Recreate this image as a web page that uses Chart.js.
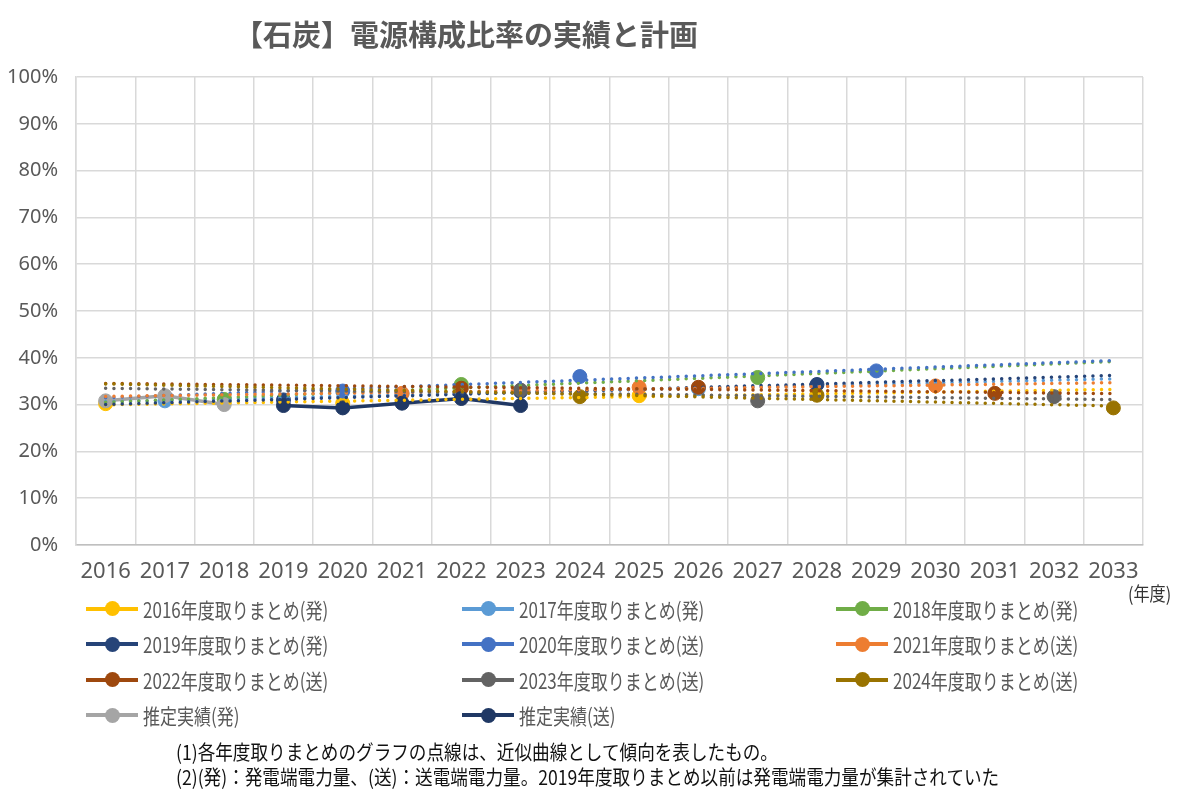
<!DOCTYPE html>
<html lang="ja">
<head>
<meta charset="utf-8">
<title>【石炭】電源構成比率の実績と計画</title>
<script src="https://cdn.jsdelivr.net/npm/chart.js@4.4.1/dist/chart.umd.min.js"></script>
<style>
  html, body { margin: 0; padding: 0; background: #fff; }
  #wrap { position: relative; width: 1177px; height: 789px; overflow: hidden; }
  #chart { position: absolute; left: 0; top: 0; }
  .title {
    position: absolute; left: 0; top: 13px; width: 932px; text-align: center;
    font: bold 29px/40px 'Noto Sans CJK JP', sans-serif; color: #595959;
  }
  .unit {
    position: absolute; left: 1128px; top: 581px; white-space: nowrap;
    font: 19px/24px 'Noto Sans CJK JP', sans-serif; color: #333;
    transform: scaleX(0.85); transform-origin: left center;
  }
  #legend {
    position: absolute; left: 86px; top: 591px;
    display: grid; grid-template-columns: 376px 374px 300px; grid-auto-rows: 35.5px;
  }
  .item { display: flex; align-items: center; white-space: nowrap; }
  .sw { position: relative; width: 52px; height: 4px; margin-right: 5px; flex: none; }
  .sw i { position: absolute; left: 19px; top: -5.5px; width: 15px; height: 15px; border-radius: 50%; }
  .lab {
    display: inline-block; transform: scaleX(0.81); transform-origin: left center;
    font: 21px/24px 'Noto Sans CJK JP', sans-serif; color: #595959;
  }
  .note {
    position: absolute; left: 176px; white-space: nowrap;
    font: 20px/22px 'Noto Sans CJK JP', sans-serif; color: #111;
    transform: scaleX(0.88); transform-origin: left center;
  }
</style>
</head>
<body>
<div id="wrap">
  <canvas id="chart" width="1177" height="789"></canvas>
  <div class="title">【石炭】電源構成比率の実績と計画</div>
  <div class="unit">(年度)</div>
  <div id="legend"></div>
  <div class="note" style="top:741px">(1)各年度取りまとめのグラフの点線は、近似曲線として傾向を表したもの。</div>
  <div class="note" style="top:766px">(2)(発)：発電端電力量、(送)：送電端電力量。2019年度取りまとめ以前は発電端電力量が集計されていた</div>
</div>
<script>
(function () {
  'use strict';

  // 年度 (category axis)
  const years = ['2016', '2017', '2018', '2019', '2020', '2021', '2022', '2023', '2024',
                 '2025', '2026', '2027', '2028', '2029', '2030', '2031', '2032', '2033'];
  const yTicks = [0, 10, 20, 30, 40, 50, 60, 70, 80, 90, 100];

  // 石炭比率 (%) — 各取りまとめ: 初年度・5年目・10年目
  const _ = null;
  //               2016  2017  2018  2019  2020  2021  2022  2023  2024  2025  2026  2027  2028  2029  2030  2031  2032  2033
  const plan2016 = [30.2, _,    _,    _,    30.3, _,    _,    _,    _,    31.9, _,    _,    _,    _,    _,    _,    _,    _];
  const plan2017 = [_,    30.8, _,    _,    _,    32.3, _,    _,    _,    _,    33.4, _,    _,    _,    _,    _,    _,    _];
  const plan2018 = [_,    _,    31.1, _,    _,    _,    34.3, _,    _,    _,    _,    35.8, _,    _,    _,    _,    _,    _];
  const plan2019 = [_,    _,    _,    31.0, _,    _,    _,    32.8, _,    _,    _,    _,    34.3, _,    _,    _,    _,    _];
  const plan2020 = [_,    _,    _,    _,    32.9, _,    _,    _,    36.0, _,    _,    _,    _,    37.2, _,    _,    _,    _];
  const plan2021 = [_,    _,    _,    _,    _,    32.4, _,    _,    _,    33.7, _,    _,    _,    _,    34.0, _,    _,    _];
  const plan2022 = [_,    _,    _,    _,    _,    _,    33.5, _,    _,    _,    33.7, _,    _,    _,    _,    32.4, _,    _];
  const plan2023 = [_,    _,    _,    _,    _,    _,    _,    33.1, _,    _,    _,    30.8, _,    _,    _,    _,    31.7, _];
  const plan2024 = [_,    _,    _,    _,    _,    _,    _,    _,    31.7, _,    _,    _,    32.0, _,    _,    _,    _,    29.3];
  const actualGen  = [30.8, 31.9, 30.0, _, _, _, _, _, _, _, _, _, _, _, _, _, _, _];
  const actualSend = [_, _, _, 29.8, 29.3, 30.3, 31.3, 29.8, _, _, _, _, _, _, _, _, _, _];

  const seriesLabels = [
    '2016年度取りまとめ(発)', '2017年度取りまとめ(発)', '2018年度取りまとめ(発)',
    '2019年度取りまとめ(発)', '2020年度取りまとめ(送)', '2021年度取りまとめ(送)',
    '2022年度取りまとめ(送)', '2023年度取りまとめ(送)', '2024年度取りまとめ(送)',
    '推定実績(発)', '推定実績(送)',
  ];
  const seriesData = [plan2016, plan2017, plan2018, plan2019, plan2020, plan2021,
                      plan2022, plan2023, plan2024, actualGen, actualSend];
  const seriesColors = ['#ffc000', '#5b9bd5', '#70ad47', '#264478', '#4472c4', '#ed7d31',
                        '#9e480e', '#636363', '#997300', '#a5a5a5', '#203864'];
  const hasTrend = [true, true, true, true, true, true, true, true, true, false, false];

  const FONT_NUM = "'Liberation Sans Narrow', 'Arial Narrow', 'Noto Sans', sans-serif";

  /* least-squares line over category index, returned as endpoints only */
  function trend(data) {
    const pts = [];
    data.forEach((v, i) => { if (v != null) pts.push([i, v]); });
    const n = pts.length;
    const mx = pts.reduce((a, p) => a + p[0], 0) / n;
    const my = pts.reduce((a, p) => a + p[1], 0) / n;
    let sxy = 0, sxx = 0;
    pts.forEach((p) => { sxy += (p[0] - mx) * (p[1] - my); sxx += (p[0] - mx) * (p[0] - mx); });
    const b = sxx ? sxy / sxx : 0, a = my - b * mx;
    const last = data.length - 1;
    return data.map((_, i) => (i === 0 || i === last) ? a + b * i : null);
  }

  const datasets = [];
  seriesData.forEach((d, i) => {
    datasets.push({
      label: seriesLabels[i], data: d,
      borderColor: seriesColors[i], backgroundColor: seriesColors[i],
      borderWidth: 3.5, pointRadius: 7, pointHoverRadius: 7, pointBorderWidth: 1,
      spanGaps: false, order: 100 - i,
    });
    if (hasTrend[i]) {
      datasets.push({
        label: seriesLabels[i] + ' 近似', data: trend(d),
        borderColor: seriesColors[i], borderWidth: 3.5,
        borderDash: [0, 8.3], borderCapStyle: 'round',
        pointRadius: 0, pointHoverRadius: 0, spanGaps: true, order: 20 - i,
      });
    }
  });

  new Chart(document.getElementById('chart'), {
    type: 'line',
    data: { labels: years, datasets },
    options: {
      responsive: false, animation: false, devicePixelRatio: 1,
      layout: { padding: { top: 77, left: 0, right: 34, bottom: 0 } },
      plugins: { legend: { display: false }, tooltip: { enabled: false } },
      scales: {
        x: {
          offset: true,
          grid: { offset: true, color: '#d9d9d9', lineWidth: 1.5, drawTicks: false },
          border: { color: '#bfbfbf', width: 1.5 },
          ticks: { color: '#595959', font: { size: 22, family: FONT_NUM }, padding: 14, maxRotation: 0, autoSkip: false },
          afterFit: (s) => { s.height = 244; },
        },
        y: {
          min: 0, max: 100,
          afterBuildTicks: (s) => { s.ticks = yTicks.map((v) => ({ value: v })); },
          grid: { color: '#d9d9d9', lineWidth: 1.5, drawTicks: false },
          border: { color: '#d9d9d9', width: 1.5 },
          ticks: { color: '#595959', font: { size: 20, family: FONT_NUM }, padding: 18, callback: (v) => v + '%' },
          afterFit: (s) => { s.width = 76; },
        },
      },
    },
  });

  // legend, three columns
  const leg = document.getElementById('legend');
  leg.innerHTML = seriesLabels.map((l, i) =>
    '<div class="item"><span class="sw" style="background:' + seriesColors[i] + '">' +
    '<i style="background:' + seriesColors[i] + '"></i></span>' +
    '<span class="lab">' + l + '</span></div>').join('');
})();
</script>
</body>
</html>
